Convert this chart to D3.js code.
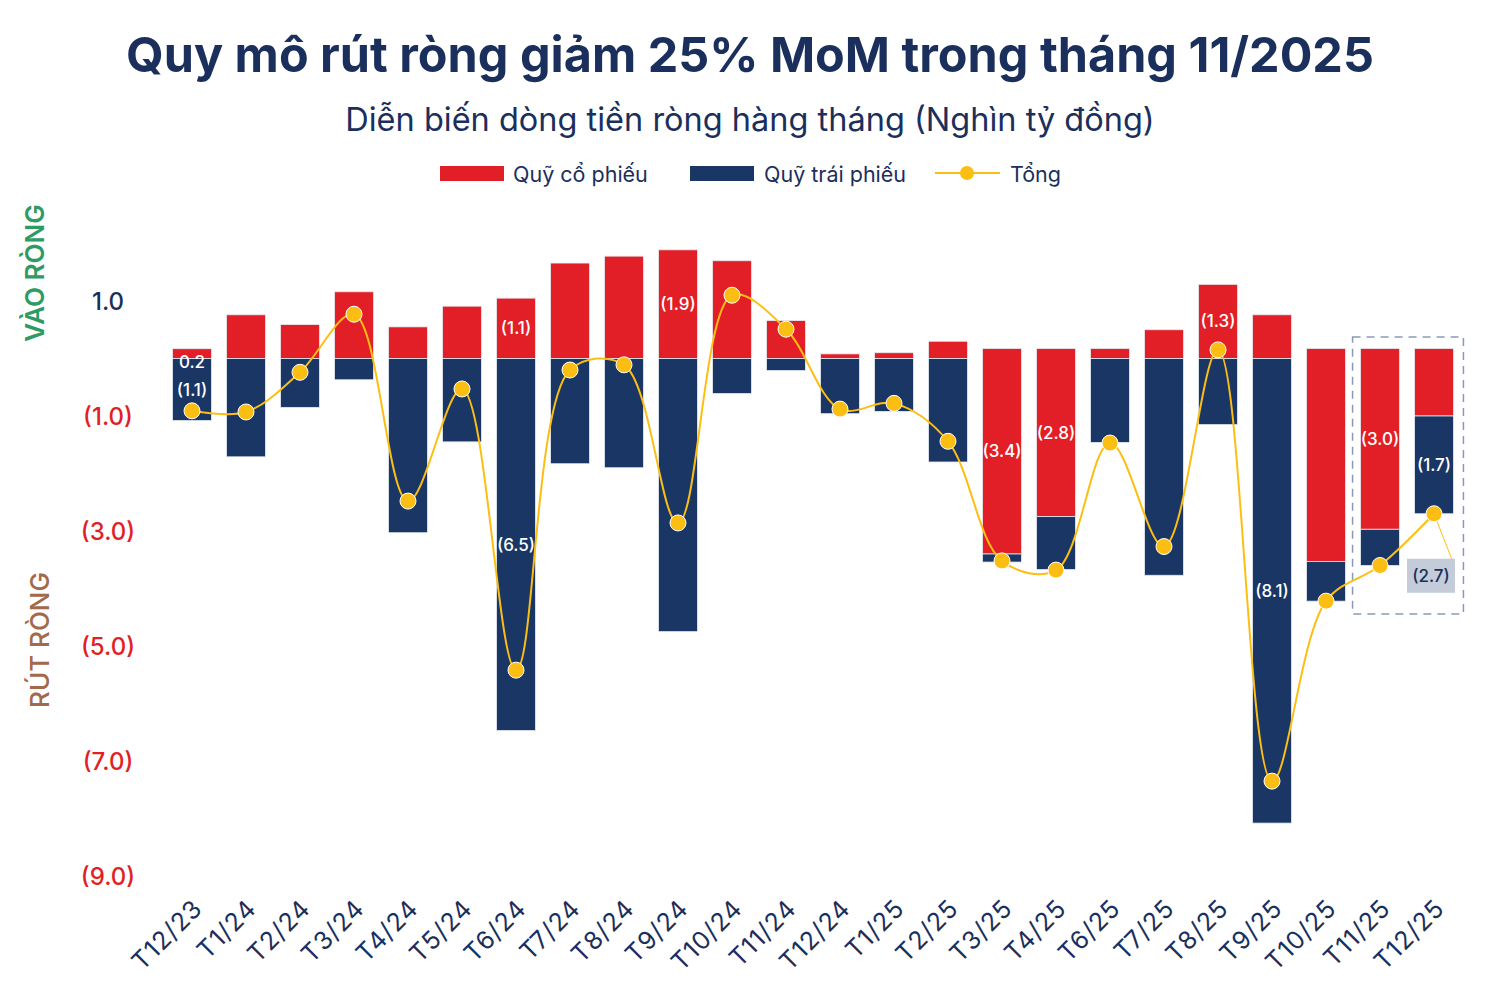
<!DOCTYPE html>
<html>
<head>
<meta charset="utf-8">
<script src="https://cdn.jsdelivr.net/npm/d3@7"></script>
<style>
  body { margin: 0; background: #fff; }
  svg { font-family: "Inter", "Noto Sans", sans-serif; }
</style>
</head>
<body>
<svg id="chart" width="1500" height="1000"></svg>
<script>
// Monthly data (nghìn tỷ đồng)
const months = ["T12/23","T1/24","T2/24","T3/24","T4/24","T5/24","T6/24","T7/24","T8/24","T9/24","T10/24","T11/24",
	"T12/24","T1/25","T2/25","T3/25","T4/25","T6/25","T7/25","T8/25","T9/25","T10/25","T11/25","T12/25"];
const equity = [0.17,0.76,0.59,1.16,0.55,0.91,1.05,1.66,1.78,1.89,1.70,0.66,0.08,0.10,0.30,-3.40,-2.75,0.0,0.50,1.29,0.76,-3.53,-2.97,-1.00];
const bond = [-1.08,-1.71,-0.85,-0.37,-3.03,-1.45,-6.47,-1.83,-1.90,-4.75,-0.61,-0.21,-0.96,-0.92,-1.80,-0.14,-0.92,-1.46,-3.77,-1.15,-8.08,-0.69,-0.63,-1.70];
const total = [-0.91,-0.93,-0.24,0.77,-2.48,-0.53,-5.42,-0.20,-0.11,-2.86,1.10,0.51,-0.88,-0.78,-1.44,-3.52,-3.68,-1.47,-3.27,0.15,-7.35,-4.22,-3.60,-2.70];

// Bar labels: [month, series, text]
const barLabels = [
	["T12/23","equity","0.2"], ["T12/23","bond","(1.1)"],
	["T6/24","equity","(1.1)"], ["T6/24","bond","(6.5)"],
	["T9/24","equity","(1.9)"],
	["T3/25","equity","(3.4)"], ["T4/25","equity","(2.8)"],
	["T8/25","equity","(1.3)"], ["T9/25","bond","(8.1)"],
	["T11/25","equity","(3.0)"], ["T12/25","bond","(1.7)"]
];
const calloutMonth = "T12/25";
const calloutText = "(2.7)";
const highlightMonths = ["T11/25","T12/25"];
const yTicks = [1,-1,-3,-5,-7,-9];

const RED = "#e21f26", NAVY = "#1a3665", GOLD = "#fdbe14", INK = "#1b2f5c";

const svg = d3.select("#chart");

const x = d3.scaleBand().domain(months).range([165, 1461]).paddingInner(0.28).paddingOuter(0.14);
const y = d3.scaleLinear().domain([-9, 1]).range([876, 301]);
const cx = m => x(m) + x.bandwidth() / 2;

// Title
svg.append("text").attr("x", 750).attr("y", 72).attr("text-anchor", "middle")
	.attr("font-size", 48.5).attr("font-weight", 700).attr("fill", INK)
	.text("Quy mô rút ròng giảm 25% MoM trong tháng 11/2025");
svg.append("text").attr("x", 750).attr("y", 131).attr("text-anchor", "middle")
	.attr("font-size", 32.5).attr("fill", INK)
	.text("Diễn biến dòng tiền ròng hàng tháng (Nghìn tỷ đồng)");

// Legend
const legend = svg.append("g").attr("font-size", 21.5).attr("fill", INK);
legend.append("rect").attr("x", 440).attr("y", 166).attr("width", 64).attr("height", 15).attr("fill", RED);
legend.append("text").attr("x", 513).attr("y", 182).text("Quỹ cổ phiếu");
legend.append("rect").attr("x", 690).attr("y", 166).attr("width", 64).attr("height", 15).attr("fill", NAVY);
legend.append("text").attr("x", 764).attr("y", 182).text("Quỹ trái phiếu");
legend.append("line").attr("x1", 935).attr("x2", 1000).attr("y1", 173).attr("y2", 173)
	.attr("stroke", GOLD).attr("stroke-width", 2);
legend.append("circle").attr("cx", 967).attr("cy", 173).attr("r", 7).attr("fill", GOLD);
legend.append("text").attr("x", 1010).attr("y", 182).text("Tổng");

// Side labels
svg.append("text").attr("transform", "translate(44,273) rotate(-90)").attr("text-anchor", "middle")
	.attr("font-size", 26).attr("font-weight", 600).attr("fill", "#2e9b63").text("VÀO RÒNG");
svg.append("text").attr("transform", "translate(49,640) rotate(-90)").attr("text-anchor", "middle")
	.attr("font-size", 26).attr("font-weight", 500).attr("fill", "#a2694b").text("RÚT RÒNG");

// Y tick labels
svg.append("g").selectAll("text").data(yTicks).join("text")
	.attr("x", 108).attr("y", d => y(d) + 9).attr("text-anchor", "middle")
	.attr("font-size", 24).attr("font-weight", 500)
	.attr("fill", d => d >= 0 ? INK : RED)
	.text(d => d >= 0 ? d3.format(".1f")(d) : "(" + d3.format(".1f")(-d) + ")");

// Build stacked segments
const rows = months.map((m, i) => {
	const e = equity[i], b = bond[i];
	let eTop, eBot, bTop, bBot;
	if (e > 0) {
		eTop = y(e); eBot = y(0);
		bTop = y(0); bBot = y(b);
	} else {
		// negative equity bars start a little above zero, like the original
		eTop = y(0) - 10; eBot = y(e);
		bTop = y(e); bBot = y(e + b);
	}
	return { m, e, b, eTop, eBot, bTop, bBot };
});

const bars = svg.append("g").attr("stroke", "#e6eaf1").attr("stroke-width", 0.8);
bars.selectAll(".eq").data(rows).join("rect").attr("class", "eq")
	.attr("x", d => x(d.m)).attr("width", x.bandwidth())
	.attr("y", d => d.eTop).attr("height", d => Math.max(0, d.eBot - d.eTop)).attr("fill", RED);
bars.selectAll(".bd").data(rows).join("rect").attr("class", "bd")
	.attr("x", d => x(d.m)).attr("width", x.bandwidth())
	.attr("y", d => d.bTop).attr("height", d => Math.max(0, d.bBot - d.bTop)).attr("fill", NAVY);

// Bar value labels
const rowBy = new Map(rows.map(r => [r.m, r]));
svg.append("g").selectAll("text").data(barLabels).join("text")
	.attr("x", d => cx(d[0]))
	.attr("y", d => {
		const r = rowBy.get(d[0]);
		const top = d[1] === "equity" ? r.eTop : r.bTop;
		const bot = d[1] === "equity" ? r.eBot : r.bBot;
		if (bot - top < 20) return bot + 9;
		return (top + bot) / 2 + 6;
	})
	.attr("text-anchor", "middle").attr("font-size", 17).attr("font-weight", 500).attr("fill", "#fff")
	.text(d => d[2]);

// Highlight box
const hx0 = x(highlightMonths[0]) - 8, hx1 = x(highlightMonths[highlightMonths.length - 1]) + x.bandwidth() + 10;
svg.append("rect").attr("x", hx0).attr("y", 337).attr("width", hx1 - hx0).attr("height", 277)
	.attr("fill", "none").attr("stroke", "#8a9ab5").attr("stroke-width", 1.5).attr("stroke-dasharray", "8,6");

// Total line
const pts = months.map((m, i) => [cx(m), y(total[i])]);
svg.append("path").attr("d", d3.line().curve(d3.curveCatmullRom.alpha(0.5))(pts))
	.attr("fill", "none").attr("stroke", GOLD).attr("stroke-width", 2);

// Callout leader
const ci = months.indexOf(calloutMonth);
svg.append("line").attr("x1", cx(calloutMonth)).attr("y1", y(total[ci]))
	.attr("x2", cx(calloutMonth) + 18).attr("y2", y(total[ci]) + 46)
	.attr("stroke", GOLD).attr("stroke-width", 1);

svg.append("g").selectAll("circle").data(pts).join("circle")
	.attr("cx", d => d[0]).attr("cy", d => d[1]).attr("r", 8)
	.attr("fill", GOLD).attr("stroke", "#fff").attr("stroke-width", 1);

svg.append("rect").attr("x", cx(calloutMonth) - 27).attr("y", y(total[ci]) + 45)
	.attr("width", 48).attr("height", 34).attr("fill", "#c4ccd9");
svg.append("text").attr("x", cx(calloutMonth) - 3).attr("y", y(total[ci]) + 68)
	.attr("text-anchor", "middle").attr("font-size", 17).attr("font-weight", 500).attr("fill", INK)
	.text(calloutText);

// X axis labels
svg.append("g").selectAll("text").data(months).join("text")
	.attr("transform", d => `translate(${cx(d) + 12},${910}) rotate(-45)`)
	.attr("text-anchor", "end").attr("font-size", 25).attr("letter-spacing", 1).attr("fill", INK)
	.text(d => d);
</script>
</body>
</html>
